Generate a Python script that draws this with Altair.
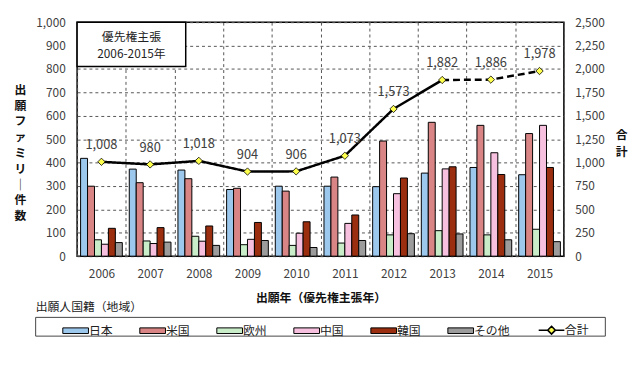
import altair as alt
import pandas as pd

years = ["2006", "2007", "2008", "2009", "2010", "2011", "2012", "2013", "2014", "2015"]
series = ["日本", "米国", "欧州", "中国", "韓国", "その他"]
japan = [418, 372, 368, 285, 299, 299, 297, 355, 379, 348]
usa = [299, 314, 331, 290, 278, 338, 492, 572, 559, 524]
europe = [70, 65, 85, 49, 46, 56, 91, 109, 91, 115]
china = [51, 54, 64, 72, 98, 140, 267, 373, 442, 559]
korea = [119, 122, 129, 144, 147, 176, 334, 382, 349, 379]
other = [58, 60, 46, 67, 37, 67, 96, 95, 70, 62]
totals = [1008, 980, 1018, 904, 906, 1073, 1573, 1882, 1886, 1978]
total_name = "合計"
colors = ["#9DC8EE", "#D98585", "#C8EDC8", "#F6C0DE", "#9A2E0E", "#9C9C9C", "#FFFF4D"]

FONT = "Noto Sans CJK JP"

rows = []
for s, vals in zip(series, [japan, usa, europe, china, korea, other]):
    for y, v in zip(years, vals):
        rows.append({"year": y, "series": s, "value": v})
bar_df = pd.DataFrame(rows)

line_rows = []
for y, t in zip(years, totals):
    if int(y) <= 2013:
        line_rows.append({"year": y, "total": t, "seg": "a"})
    if int(y) >= 2013:
        line_rows.append({"year": y, "total": t, "seg": "b"})
line_df = pd.DataFrame(line_rows)
tot_df = pd.DataFrame({"year": years, "total": totals, "s": [total_name] * len(years)})
one = pd.DataFrame({"k": [0]})

x_enc = alt.X(
    "year:N", sort=years,
    scale=alt.Scale(paddingInner=0, paddingOuter=0),
    axis=alt.Axis(title="出願年（優先権主張年）", labelAngle=0, ticks=False, domain=False,
                  grid=True, tickBand="extent", gridDash=[3, 3], gridColor="#555555",
                  labelPadding=13, titlePadding=13, titleFontWeight="bold",
                  labelFontSize=12, titleFontSize=12),
)

rect_path = "M-1,-0.22H1V0.22H-1Z"
tot_path = "M-1,0H-0.3M0.3,0H1M0,-0.3L0.3,0L0,0.3L-0.3,0Z"

legend = alt.Legend(
    title=None, orient="none", legendX=-7.5, legendY=305.5, direction="horizontal",
    symbolType=alt.ExprRef(expr="datum.value === '合計' ? '" + tot_path + "' : '" + rect_path + "'"),
    symbolSize=676, symbolStrokeColor="black",
    symbolStrokeWidth=alt.ExprRef(expr="datum.value === '合計' ? 1.6 : 1"),
    labelFontSize=12, labelOffset=7.5, columnPadding=25, padding=0, labelColor="#222222",
)

bars = alt.Chart(bar_df).mark_bar(stroke="black", strokeWidth=1).encode(
    x=x_enc,
    xOffset=alt.XOffset("series:N", sort=series, scale=alt.Scale(paddingInner=0, paddingOuter=0.5)),
    y=alt.Y("value:Q", scale=alt.Scale(domain=[0, 1000]),
            axis=alt.Axis(values=list(range(0, 1001, 100)), format=",d",
                          title=["出", "願", "フ", "ァ", "ミ", "リ", "｜", "件", "数"],
                          titleAngle=0, titleX=-58, titleY=68, titleAlign="center",
                          titleBaseline="middle", titleLineHeight=16, titleFontWeight="bold",
                          titleFontSize=12, ticks=False, domain=False, grid=True,
                          gridDash=[3, 3], gridColor="#555555", labelPadding=12, labelFontSize=12)),
    color=alt.Color("series:N", scale=alt.Scale(domain=series + [total_name], range=colors), legend=legend),
)

y_right = alt.Y("total:Q", scale=alt.Scale(domain=[0, 2500]),
                axis=alt.Axis(orient="right", values=list(range(0, 2501, 250)), format=",d",
                              title=["合", "計"], titleAngle=0, titleX=58, titleY=114,
                              titleAlign="center", titleBaseline="middle", titleLineHeight=17,
                              titleFontWeight="bold", titleFontSize=12, grid=False, ticks=False,
                              domain=False, labelPadding=11, labelFontSize=12))

line = alt.Chart(line_df).mark_line(color="black", strokeWidth=2.5).encode(
    x=x_enc, y=y_right, detail="seg:N",
    strokeDash=alt.StrokeDash("seg:N", scale=alt.Scale(domain=["a", "b"], range=[[1, 0], [7, 4]]), legend=None),
)
points = alt.Chart(tot_df).mark_point(shape="diamond", filled=True, size=55, stroke="black",
                                      strokeWidth=0.8, opacity=1).encode(
    x=x_enc, y=y_right, color=alt.Color("s:N"))
labels = alt.Chart(tot_df).mark_text(dy=-17, fontSize=13, color="#404040").encode(
    x=x_enc, y=y_right, text=alt.Text("total:Q", format=",d"))

right = alt.layer(line, points, labels)

box = alt.Chart(one).mark_rect(fill="white", stroke="black", strokeWidth=1.5).encode(
    x=alt.value(0), x2=alt.value(110), y=alt.value(0), y2=alt.value(45))
box_text = alt.Chart(one).mark_text(text=["優先権主張", "2006-2015年"], lineHeight=17,
                                    fontSize=12, color="#222222", baseline="middle").encode(
    x=alt.value(55), y=alt.value(15))
leg_title = alt.Chart(one).mark_text(text="出願人国籍（地域）", align="left", baseline="middle",
                                     fontSize=12, color="#222222").encode(
    x=alt.value(-42), y=alt.value(289))
leg_box = alt.Chart(one).mark_rect(fillOpacity=0, stroke="#444444", strokeWidth=1).encode(
    x=alt.value(-42), x2=alt.value(535), y=alt.value(299), y2=alt.value(318))

chart = alt.layer(bars, right, box, box_text, leg_title, leg_box).resolve_scale(
    y="independent"
).properties(
    width=493, height=237,
    autosize=alt.AutoSizeParams(type="none"),
    padding={"left": 70, "top": 12, "right": 69, "bottom": 117},
).configure(font=FONT).configure_view(stroke="black", strokeWidth=1.5).configure_axis(
    labelColor="#404040", titleColor="#111111", labelFont=FONT, titleFont=FONT
).configure_legend(labelFont=FONT).configure_text(font=FONT)

chart.save("out.html", embed_options={"renderer": "svg", "actions": False})
